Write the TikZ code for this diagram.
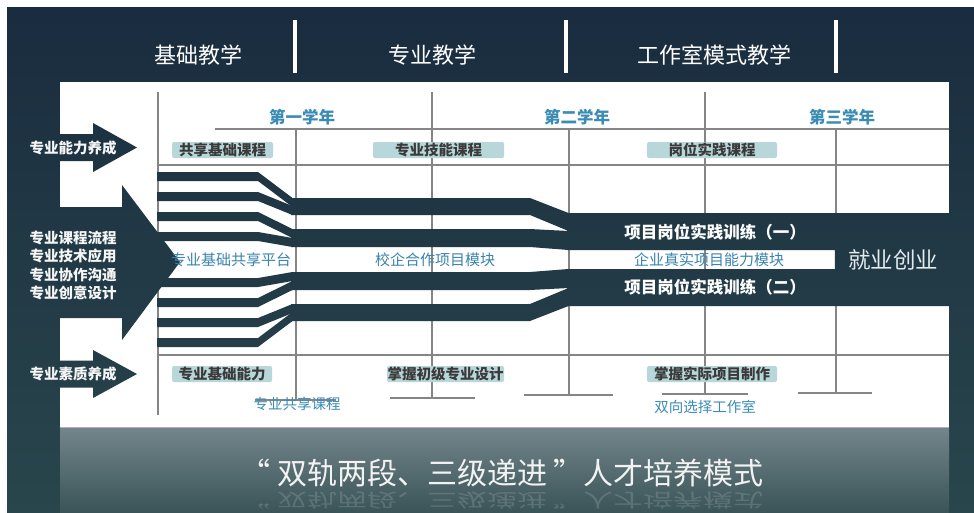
\documentclass[tikz,border=0pt]{standalone}
\usepackage{fontspec}
\setmainfont{Noto Sans CJK SC}
\definecolor{bgtop}{HTML}{1A2C3F}
\definecolor{bgmid}{HTML}{1F3848}
\definecolor{bgbot}{HTML}{29464C}
\definecolor{gridc}{HTML}{858585}
\definecolor{boxc}{HTML}{B8D7DB}
\definecolor{boxtext}{HTML}{3A3A3A}
\definecolor{yearc}{HTML}{3B8CB4}
\definecolor{modc}{HTML}{3A84AE}
\definecolor{bandtop}{HTML}{73868B}
\definecolor{bandbot}{HTML}{3A5458}
\definecolor{jobc}{HTML}{E4EBEE}
\newcommand\bgshade{\shade[top color=bgtop, middle color=bgmid, bottom color=bgbot] (7,7) rectangle (974,512);}
\newcommand\darkpoly[1]{\begin{scope}\clip #1;\bgshade\end{scope}}
\newcommand\stripe[3]{\darkpoly{(157,#1)--(258,#1)--(292.5,{#1+#3})--(292.5,{#2+#3})--(258,#2)--(157,#2)--cycle}}
\newcommand\mband[4]{\darkpoly{(291,#1)--(530,#1)--(568.5,{#1+#3})--(568.5,{#2+#4})--(530,#2)--(291,#2)--cycle}}
\begin{document}
\begin{tikzpicture}[x=1pt,y=-1pt,inner sep=0pt,
  gridline/.style={draw=gridc, line width=1.8pt},
  sepline/.style={draw=white, line width=3.5pt},
  lbox/.style={fill=boxc, rounded corners=2pt, inner sep=0pt, minimum height=16pt, text=boxtext, font=\bfseries\fontsize{14.5}{15}\selectfont},
  headtxt/.style={text=white, font=\fontsize{22}{24}\selectfont},
  yeartxt/.style={text=yearc, font=\bfseries\fontsize{16.5}{18}\selectfont},
  lefttxt/.style={text=white!92!gray, font=\bfseries\fontsize{14.5}{18.4}\selectfont, align=center},
  modtxt/.style={text=modc, font=\fontsize{15}{16}\selectfont},
  bandtxt/.style={text=white, font=\bfseries\fontsize{16.5}{18}\selectfont},
  subtxt/.style={text=yearc, font=\fontsize{14.5}{16}\selectfont},
  titletxt/.style={text=white!90!gray, font=\fontsize{30}{32}\selectfont}]
\useasboundingbox (0,0) rectangle (974,512);
\fill[white] (0,0) rectangle (974,512);
\bgshade
% white panel and lower band
\fill[white] (60,82) rectangle (949,427);
\shade[top color=bandtop, bottom color=bandbot] (60,427) rectangle (949,512);
\draw[gray!60, line width=0.8pt] (60,427) -- (949,427);
% header separators
\draw[sepline] (295,20) -- (295,73);
\draw[sepline] (566,20) -- (566,73);
\draw[sepline] (836,20) -- (836,73);
% grid
\draw[gridline] (158,92) -- (158,415);
\draw[gridline] (432,92) -- (432,398);
\draw[gridline] (705,92) -- (705,394);
\draw[gridline] (296,129) -- (296,400);
\draw[gridline] (569,129) -- (569,395);
\draw[gridline] (836,129) -- (836,393);
\draw[gridline] (215,129) -- (949,129);
\draw[gridline] (158,165) -- (949,165);
\draw[gridline] (158,355) -- (949,355);
\draw[gridline] (255,400) -- (336,400);
\draw[gridline] (390,398) -- (475,398);
\draw[gridline] (524,395) -- (613,395);
\draw[gridline] (662,394) -- (748,394);
\draw[gridline] (798,393) -- (872,393);
% left arrows
\darkpoly{(50,134)--(93,134)--(93,123)--(137,147.5)--(93,172)--(93,161)--(50,161)--cycle}
\darkpoly{(50,207)--(122,207)--(122,185)--(180,262)--(122,340)--(122,318)--(50,318)--cycle}
\darkpoly{(50,360.5)--(93,360.5)--(93,350)--(137,374)--(93,398)--(93,387.5)--(50,387.5)--cycle}
% stripes
\stripe{172}{181}{26}
\stripe{192}{201}{14}
\stripe{212}{221}{17}
\stripe{232}{241}{6}
\stripe{278}{287}{-6}
\stripe{298}{307}{-17}
\stripe{318}{327}{-14}
\stripe{338}{347}{-26}
\mband{198}{215}{15}{16}
\mband{229}{247}{2}{3}
\mband{272}{290}{-3}{-2}
\mband{304}{321}{-16}{-15}
\darkpoly{(567,213)--(950,213)--(950,306)--(567,306)--(567,269)--(834.8,269)--(834.8,250)--(567,250)--cycle}
% header texts
\node[headtxt] (h1) at (198,55) {基础教学};
\node[headtxt] (h2) at (432,55) {专业教学};
\node[headtxt] (h3) at (714,55) {工作室模式教学};
% years
\node[yeartxt] (y1) at (302,117) {第一学年};
\node[yeartxt] (y2) at (577,117) {第二学年};
\node[yeartxt] (y3) at (842,117) {第三学年};
% label boxes
\node[lbox, minimum width=101pt] (b1) at (222.5,150) {共享基础课程};
\node[lbox, minimum width=131pt] (b2) at (438.5,150) {专业技能课程};
\node[lbox, minimum width=130pt] (b3) at (712,150) {岗位实践课程};
\node[lbox, minimum width=100pt] (b4) at (222,374) {专业基础能力};
\node[lbox, minimum width=117pt] (b5) at (445.5,374) {掌握初级专业设计};
\node[lbox, minimum width=130pt] (b6) at (712,374) {掌握实际项目制作};
% left texts
\node[lefttxt] (l1) at (73,148) {专业能力养成};
\node[lefttxt] (l2) at (73,265.5) {专业课程流程\\专业技术应用\\专业协作沟通\\专业创意设计};
\node[lefttxt] (l3) at (73,374) {专业素质养成};
% module texts
\node[modtxt] (m1) at (231,260) {专业基础共享平台};
\node[modtxt] (m2) at (435,260) {校企合作项目模块};
\node[modtxt] (m3) at (709,259.5) {企业真实项目能力模块};
\node[bandtxt] (r1) at (715,232) {项目岗位实践训练（一）};
\node[bandtxt] (r2) at (715,287.5) {项目岗位实践训练（二）};
\node[text=jobc, font=\fontsize{22.5}{24}\selectfont] (job) at (893,260) {就业创业};
% bottom texts
\node[subtxt] (s1) at (297,404) {专业共享课程};
\node[subtxt] (s2) at (705,407) {双向选择工作室};
% title and its reflection
\node[titletxt] (title) at (502,473) {“ 双轨两段、三级递进 ”人才培养模式};
\begin{scope}[shift={(502,500.5)}, yscale=-0.62, transform shape]
\node[titletxt, opacity=0.16] (titleref) at (0,0) {“ 双轨两段、三级递进 ”人才培养模式};
\end{scope}
\end{tikzpicture}
\end{document}
